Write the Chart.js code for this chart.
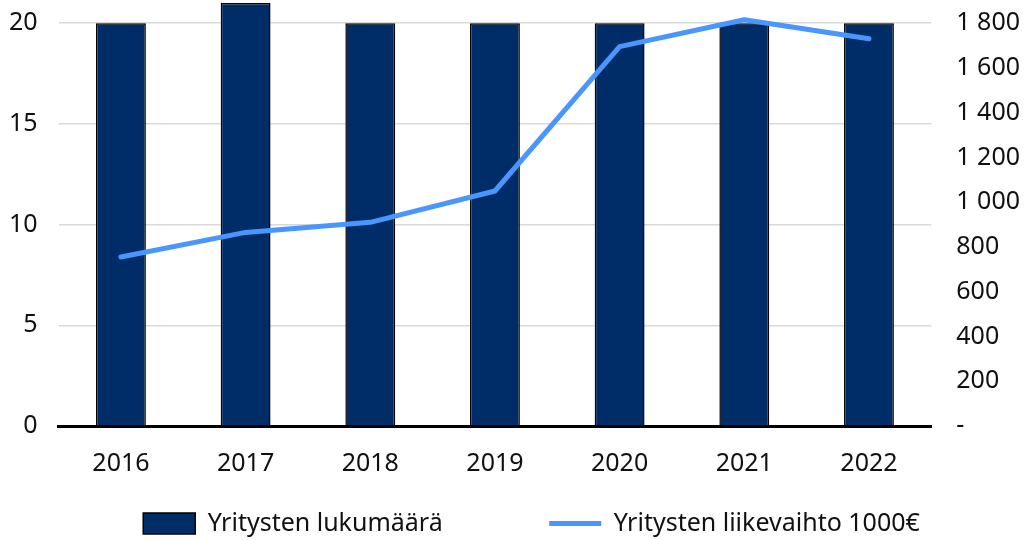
<!DOCTYPE html>
<html>
<head>
<meta charset="utf-8">
<script src="https://cdn.jsdelivr.net/npm/chart.js@4"></script>
<style>
  body { margin: 0; background: #fff; }
  #wrap { width: 1024px; height: 540px; }
</style>
</head>
<body>
<div id="wrap"><canvas id="comboChart"></canvas></div>
<script>
const years = ['2016', '2017', '2018', '2019', '2020', '2021', '2022'];
const companyCount = [20, 21, 20, 20, 20, 20, 20];
const turnover = [755, 865, 910, 1050, 1695, 1815, 1730];
const countTicks = [0, 5, 10, 15, 20];
const turnoverTicks = [0, 200, 400, 600, 800, 1000, 1200, 1400, 1600, 1800];

const fmtThousands = v => v === 0 ? '-' : String(v).replace(/\B(?=(\d{3})+(?!\d))/g, ' ');

Chart.defaults.font.family = '"Noto Sans", "Open Sans", sans-serif';
Chart.defaults.font.size = 25;
Chart.defaults.color = '#111';

// legend sits a bit right of centre in the original
const nudgeLegend = {
  id: 'nudgeLegend',
  afterLayout(chart) {
    chart.legend.left += 17;
    chart.legend.right += 17;
  }
};

var ctx = document.getElementById('comboChart');

var comboChart = new Chart(ctx, {
  type: 'bar',
  data: {
    labels: years,
    datasets: [
      {
        label: 'Yritysten lukumäärä',
        data: companyCount,
        backgroundColor: '#002d67',
        borderColor: '#000',
        borderWidth: 1.5,
        barPercentage: 0.4,
        categoryPercentage: 1,
        yAxisID: 'y',
        pointStyle: 'rect',
        order: 2
      },
      {
        label: 'Yritysten liikevaihto 1000€',
        type: 'line',
        data: turnover,
        borderColor: '#4a96ff',
        backgroundColor: '#4a96ff',
        borderWidth: 5,
        borderCapStyle: 'round',
        borderJoinStyle: 'round',
        pointRadius: 0,
        tension: 0,
        yAxisID: 'y2',
        pointStyle: 'line',
        order: 1
      }
    ]
  },
  plugins: [nudgeLegend],
  options: {
    responsive: true,
    maintainAspectRatio: false,
    animation: false,
    layout: { padding: { top: 3, left: 6, right: 1, bottom: -6 } },
    plugins: {
      legend: {
        position: 'bottom',
        labels: {
          usePointStyle: true,
          pointStyleWidth: 52,
          boxHeight: 21,
          padding: 9,
          color: '#111',
          sort: (a, b) => a.datasetIndex - b.datasetIndex,
          // pad the first entry so the two entries sit far apart like the original
          generateLabels: chart => {
            const items = Chart.defaults.plugins.legend.labels.generateLabels(chart);
            items.forEach(it => { if (it.datasetIndex === 0) it.text = it.text + '\u00a0'.repeat(15); });
            return items;
          }
        }
      },
      tooltip: { enabled: false }
    },
    scales: {
      x: {
        grid: { display: false, drawTicks: false },
        border: { color: '#000', width: 3 },
        ticks: { padding: 23 }
      },
      y: {
        min: 0,
        max: 21,
        afterBuildTicks: axis => { axis.ticks = countTicks.map(v => ({ value: v })); },
        afterFit: axis => { axis.paddingTop = 0; },
        ticks: { padding: 3 },
        grid: { color: '#d9d9d9', lineWidth: 1.5, drawTicks: true, tickLength: 18, tickColor: 'rgba(0,0,0,0)' },
        border: { display: false }
      },
      y2: {
        position: 'right',
        min: 0,
        max: 1890,
        afterBuildTicks: axis => { axis.ticks = turnoverTicks.map(v => ({ value: v })); },
        afterFit: axis => { axis.paddingTop = 0; },
        ticks: { padding: 3, callback: v => fmtThousands(v) },
        grid: { drawOnChartArea: false, drawTicks: true, tickLength: 22, tickColor: 'rgba(0,0,0,0)' },
        border: { display: false }
      }
    }
  }
});
</script>
</body>
</html>
